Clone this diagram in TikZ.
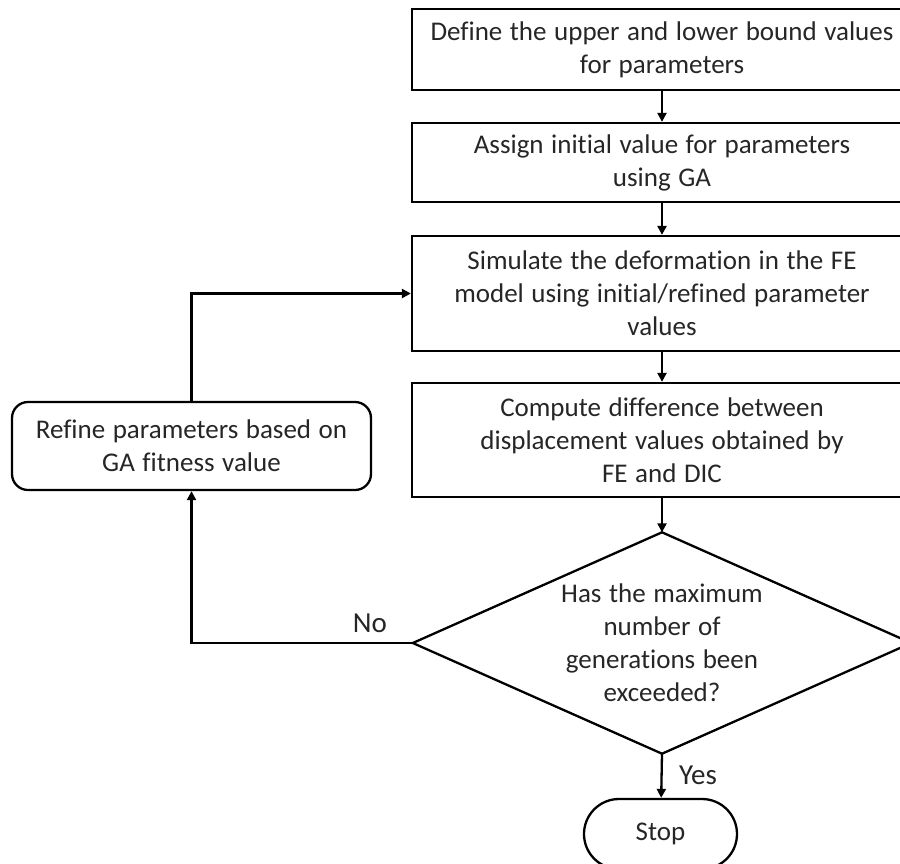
\documentclass[tikz,border=0pt]{standalone}
\usepackage{fontspec}
\setmainfont{Carlito}[Ligatures=NoCommon]
\usetikzlibrary{arrows.meta}
\definecolor{txt}{RGB}{38,38,38}
\newcommand{\myfont}{\fontsize{27}{33}\selectfont\spaceskip=0.28em plus 0.1em minus 0.05em\relax}
\begin{document}
\begin{tikzpicture}[x=1pt,y=-1pt,
  every node/.style={font=\myfont, text=txt},
  box/.style={draw=black, line width=2.3pt, rectangle, minimum width=500pt, align=center, inner sep=0pt},
  refbox/.style={draw=black, line width=2.3pt, rectangle, rounded corners=16pt, minimum width=359pt, minimum height=88pt, align=center, inner sep=0pt},
  stopbox/.style={draw=black, line width=2.3pt, rectangle, rounded corners=35pt, minimum width=153pt, minimum height=70pt, inner sep=0pt},
  lbl/.style={font=\fontsize{29}{33}\selectfont, text=txt},
  arr/.style={draw=black, line width=2.3pt, -{Triangle[length=9pt,width=9pt]}},
  conn/.style={draw=black, line width=2.3pt}
]
\useasboundingbox (0,0) rectangle (900,863);
\clip (0,0) rectangle (900,863);

\node[box, minimum height=81pt] (b1) at (662,49.5) {Define the upper and lower bound values\\for parameters};
\node[box, minimum height=79pt] (b2) at (662,162.5) {Assign initial value for parameters\\using GA};
\node[box, minimum height=115pt] (b3) at (662,293.5) {Simulate the deformation in the FE\\model using initial/refined parameter\\values};
\node[box, minimum height=114pt] (b4) at (662,440) {Compute difference between\\displacement values obtained by\\FE and DIC};
\node[align=center, minimum width=498pt, minimum height=221pt, inner sep=0pt] (dia) at (662,643) {Has the maximum\\number of\\generations been\\exceeded?};
\draw[conn, line join=miter] (dia.north) -- (dia.east) -- (dia.south) -- (dia.west) -- cycle;
\node[stopbox] (stop) at (660.5,834) {Stop};
\node[refbox] (ref) at (191.5,446) {Refine parameters based on\\GA fitness value};

\node[lbl] (no) at (370,623) {No};
\node[lbl] (yes) at (698,775) {Yes};

\draw[arr] (b1) -- (b2);
\draw[arr] (b2) -- (b3);
\draw[arr] (b3) -- (b4);
\draw[arr] (b4) -- (dia.north);
\draw[arr] (dia.south) -- (stop);
\draw[arr] (dia.west) -| (ref.south);
\draw[arr] (ref.north) |- (b3.west);
\end{tikzpicture}
\end{document}
